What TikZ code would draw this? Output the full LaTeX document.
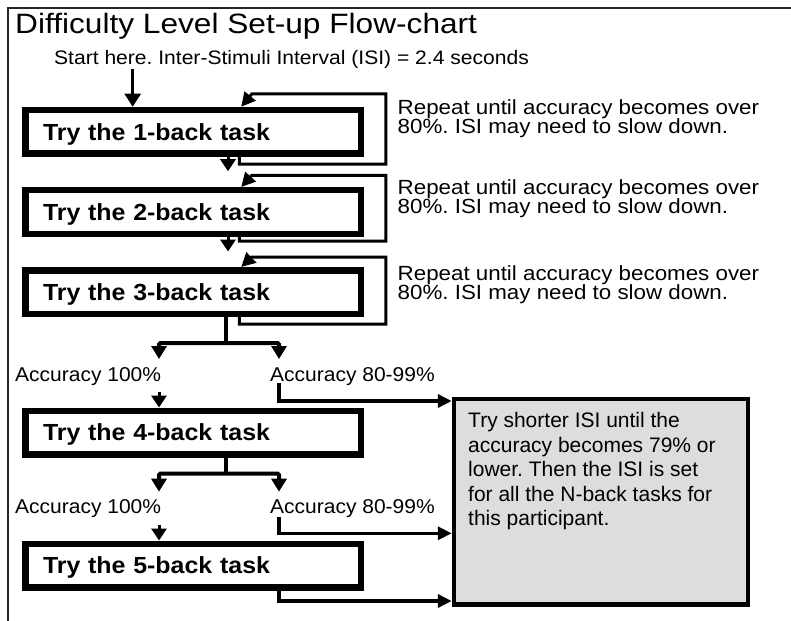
\documentclass[tikz,border=0pt]{standalone}
\usepackage{fontspec}
\setmainfont{Liberation Sans}
\newfontfamily\ftitle{Liberation Sans}[FakeStretch=1.13]
\newfontfamily\fstart{Liberation Sans}[FakeStretch=1.08]
\newfontfamily\frep{Liberation Sans}[FakeStretch=1.09]
\newfontfamily\ftask{Liberation Sans}[FakeStretch=1.07]
\newfontfamily\facc{Liberation Sans}[FakeStretch=1.05]
\usetikzlibrary{arrows.meta,calc}
\definecolor{boxgray}{RGB}{221,221,221}
\tikzset{
  task/.style={draw, rectangle, line width=6.5pt, minimum width=335.5pt, minimum height=43.5pt,
    text width=300.5pt, inner xsep=17.5pt, inner ysep=0pt, align=left,
    text height=16.7pt, text depth=0pt, font=\ftask\bfseries\fontsize{23.3}{28}\selectfont},
  reptext/.style={anchor=north west, inner sep=0pt, align=left, font=\frep\fontsize{20.5}{19.3}\selectfont},
  acc/.style={anchor=base west, inner sep=0pt, font=\facc\fontsize{20}{24}\selectfont},
  thinarr/.style={line width=2.5pt, -{Triangle[width=16pt,length=13pt]}},
  looparr/.style={line width=3pt, -{Triangle[width=14pt,length=14pt]}},
  downarr/.style={line width=3pt, -{Triangle[width=15pt,length=12pt]}},
  brline/.style={line width=4pt},
  brarr/.style={line width=4pt, rounded corners=1.5pt, -{Triangle[width=15pt,length=13pt]}},
  rarr/.style={line width=3.5pt, -{Triangle[width=13pt,length=14pt]}}
}
\begin{document}
\frenchspacing
\begin{tikzpicture}[x=1pt,y=-1pt]
\useasboundingbox (0,0) rectangle (791,620);
% frame
\draw[line width=1.5pt, black!85] (8,622) -- (8,8) -- (793,8);
% texts
\node[anchor=base west, inner sep=0pt, font=\ftitle\fontsize{28}{32}\selectfont] (title) at (15,33.5) {Difficulty Level Set-up Flow-chart};
\node[anchor=base west, inner sep=0pt, font=\fstart\fontsize{19.5}{24}\selectfont] (start) at (54,64.5) {Start here. Inter-Stimuli Interval (ISI) = 2.4 seconds};
% task boxes
\node[task] (b1) at (193.25,131.75) {Try the 1-back task};
\node[task] (b2) at (193.25,212) {Try the 2-back task};
\node[task] (b3) at (193.25,292) {Try the 3-back task};
\node[task] (b4) at (193.25,432.5) {Try the 4-back task};
\node[task] (b5) at (193.25,565.5) {Try the 5-back task};
% repeat texts
\node[reptext] (r1) at (397.5,99.3) {Repeat until accuracy becomes over\\80\%. ISI may need to slow down.};
\node[reptext] (r2) at (397.5,179.3) {Repeat until accuracy becomes over\\80\%. ISI may need to slow down.};
\node[reptext] (r3) at (397.5,265) {Repeat until accuracy becomes over\\80\%. ISI may need to slow down.};
% accuracy labels
\node[acc] (a31) at (15,381.7) {Accuracy 100\%};
\node[acc] (a32) at (270,381.7) {Accuracy 80-99\%};
\node[acc] (a41) at (15,513) {Accuracy 100\%};
\node[acc] (a42) at (270,513) {Accuracy 80-99\%};
% gray box
\node[draw, rectangle, line width=4.5pt, fill=boxgray, minimum width=294pt, minimum height=205.5pt] (gb) at (601,501.75) {};
\node[anchor=north west, inner sep=0pt, align=left, font=\fontsize{21}{24.5}\selectfont] (gbt) at (468,412.5)
  {Try shorter ISI until the\\accuracy becomes 79\% or\\lower. Then the ISI is set\\for all the N-back tasks for\\this participant.};
% start arrow
\coordinate (s0) at (132.7,69);
\draw[thinarr] (s0) -- (s0 |- b1.north);
% loops
\draw[looparr] ([xshift=46pt]b1.south) -- (239.25,164.25) -- (385.8,164.25) -- (385.8,94) -- (251.8,94) -- ([xshift=48pt]b1.north);
\draw[looparr] ([xshift=46pt]b2.south) -- (239.25,241) -- (385.8,241) -- (385.8,175.3) -- (251.8,175.3) -- ([xshift=48pt]b2.north);
\draw[looparr] ([xshift=46pt]b3.south) -- (239.25,324) -- (385.8,324) -- (385.8,257) -- (251.8,257) -- ([xshift=48pt]b3.north);
% down arrows
\draw[downarr] ([xshift=34.75pt]b1.south) -- ++(0,14.5);
\draw[downarr] ([xshift=34.75pt]b2.south) -- ++(0,14.5);
% branch from box 3
\coordinate (j3) at (226,343);
\draw[brline] ([xshift=32.75pt]b3.south) -- (j3);
\draw[brarr] (j3) -| (159,359);
\draw[brarr] (j3) -| (279,359);
\coordinate (q4) at (159,392);
\draw[downarr] (q4) -- (q4 |- b4.north);
\coordinate (p4) at (279,383);
\draw[rarr] (p4) |- ([yshift=100.75pt]gb.west);
% branch from box 4
\coordinate (j4) at (226,473.5);
\draw[brline] ([xshift=32.75pt]b4.south) -- (j4);
\draw[brarr] (j4) -| (159,491.7);
\draw[brarr] (j4) -| (279,491.7);
\coordinate (q5) at (159,525);
\draw[downarr] (q5) -- (q5 |- b5.north);
\coordinate (p5) at (279,517);
\draw[rarr] (p5) |- ([yshift=-31.55pt]gb.west);
% from box 5
\draw[rarr] ([xshift=85.75pt]b5.south) |- ([yshift=-99.25pt]gb.west);
\end{tikzpicture}
\end{document}
